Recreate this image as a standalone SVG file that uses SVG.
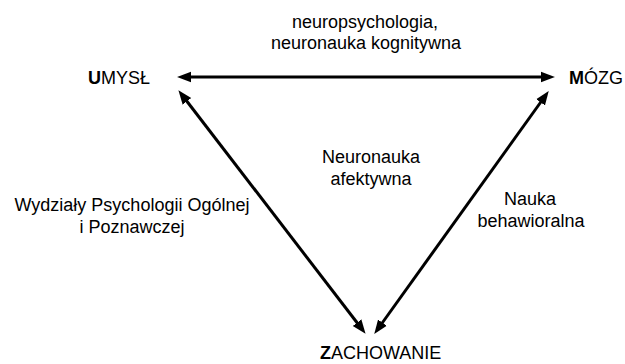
<svg xmlns="http://www.w3.org/2000/svg" width="625" height="364" viewBox="0 0 625 364">
  <style>
    text { font-family: "Liberation Sans", Arial, sans-serif; font-size: 18px; fill: #000; text-anchor: middle; }
    .node text { text-anchor: start; }
    .b { font-weight: bold; }
    .conn { stroke: #000; stroke-width: 3; fill: none; marker-start: url(#head); marker-end: url(#head); }
  </style>
  <defs>
    <marker id="head" markerUnits="userSpaceOnUse" markerWidth="14" markerHeight="12" refX="1" refY="5" orient="auto-start-reverse" viewBox="0 0 13 10">
      <path d="M0,0 L13,5 L0,10 z" fill="#000"/>
    </marker>
  </defs>

  <!-- connectors: line ends stop short of the tips so the heads finish the stroke -->
  <g id="connectors">
    <line class="conn" x1="190" y1="77" x2="542" y2="77"/>
    <line class="conn" x1="186.3" y1="100.5" x2="357.7" y2="323.5"/>
    <line class="conn" x1="541.2" y1="101.5" x2="381.8" y2="323.5"/>
  </g>

  <!-- nodes -->
  <g id="umysl" class="node">
    <text x="88" y="84"><tspan class="b">U</tspan>MYSŁ</text>
  </g>
  <g id="mozg" class="node">
    <text x="569" y="84"><tspan class="b">M</tspan>ÓZG</text>
  </g>
  <g id="zachowanie" class="node">
    <text x="320" y="359"><tspan class="b">Z</tspan>ACHOWANIE</text>
  </g>

  <!-- edge labels -->
  <g id="labels">
    <text x="365" y="28">neuropsychologia,</text>
    <text x="366" y="49">neuronauka kognitywna</text>
    <text x="371" y="163">Neuronauka</text>
    <text x="371" y="185">afektywna</text>
    <text x="132" y="211">Wydziały Psychologii Ogólnej</text>
    <text x="132" y="233">i Poznawczej</text>
    <text x="530" y="205">Nauka</text>
    <text x="531" y="227">behawioralna</text>
  </g>
</svg>
